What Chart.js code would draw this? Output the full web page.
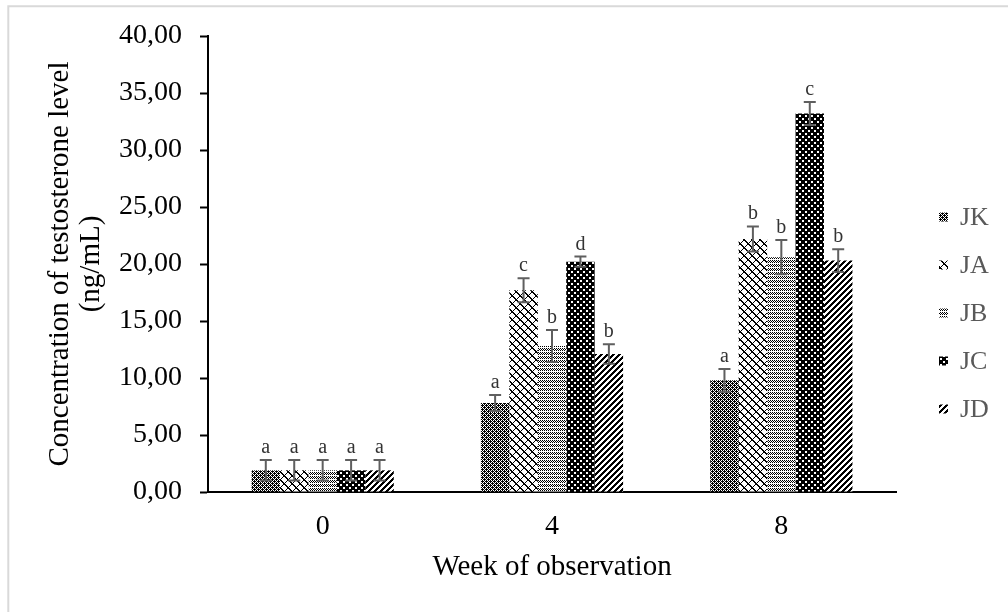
<!DOCTYPE html>
<html>
<head>
<meta charset="utf-8">
<script src="https://cdn.jsdelivr.net/npm/chart.js@4/dist/chart.umd.min.js"></script>
<style>
  html, body { margin: 0; padding: 0; background: #fff; }
  #wrap { width: 1008px; height: 612px; }
</style>
</head>
<body>
<div id="wrap"><canvas id="c" width="1008" height="612"></canvas></div>
<script>
// Weeks of observation
const weeks = ['0', '4', '8'];
const groupNames = ['JK', 'JA', 'JB', 'JC', 'JD'];

// Mean testosterone concentration (ng/mL) per group
const valuesJK = [1.9, 7.8, 9.8];
const valuesJA = [1.9, 17.7, 22.2];
const valuesJB = [1.9, 12.8, 20.6];
const valuesJC = [1.9, 20.2, 33.2];
const valuesJD = [1.9, 12.1, 20.3];

// Standard errors
const errJK = [0.9, 0.7, 1.0];
const errJA = [0.9, 1.05, 1.1];
const errJB = [0.9, 1.4, 1.5];
const errJC = [0.9, 0.45, 1.0];
const errJD = [0.9, 0.85, 1.0];

// Significance letters
const lettersJK = ['a', 'a', 'a'];
const lettersJA = ['a', 'c', 'b'];
const lettersJB = ['a', 'b', 'b'];
const lettersJC = ['a', 'd', 'c'];
const lettersJD = ['a', 'b', 'b'];

// Y-axis ticks
const yMin = 0, yMax = 40, yStep = 5;

const canvas = document.getElementById('c');
const ctx = canvas.getContext('2d');

// Monochrome fill patterns built from small pixel tiles
function makePattern(rows) {
  const t = document.createElement('canvas');
  t.width = rows[0].length;
  t.height = rows.length;
  const g = t.getContext('2d');
  g.fillStyle = '#ffffff';
  g.fillRect(0, 0, t.width, t.height);
  g.fillStyle = '#000000';
  rows.forEach((r, y) => {
    for (let x = 0; x < r.length; x++) if (r[x] === '#') g.fillRect(x, y, 1, 1);
  });
  return ctx.createPattern(t, 'repeat');
}
function diagonalTile(n, on) {
  const rows = [];
  for (let y = 0; y < n; y++) {
    let r = '';
    for (let x = 0; x < n; x++) r += ((x + y) % n) < on ? '#' : '.';
    rows.push(r);
  }
  return rows;
}

const patJK = makePattern([
  '#.#.',
  '.###',
  '#.#.',
  '##.#'
]);
const patJA = makePattern([
  '##.....#',
  '.##...#.',
  '..##.#..',
  '...##...',
  '...###..',
  '..#..##.',
  '.#....##',
  '#......#'
]);
const patJB = makePattern([
  '#.#.',
  '.#.#',
  '#.#.',
  '....'
]);
const patJC = makePattern([
  '######',
  '#..###',
  '#..###',
  '######',
  '####..',
  '####..'
]);
const patJD = makePattern(diagonalTile(6, 3));

const seriesValues = [valuesJK, valuesJA, valuesJB, valuesJC, valuesJD];
const seriesErr = [errJK, errJA, errJB, errJC, errJD];
const seriesLetters = [lettersJK, lettersJA, lettersJB, lettersJC, lettersJD];
const seriesFill = [patJK, patJA, patJB, patJC, patJD];

const SERIF = "'Liberation Serif', 'Times New Roman', serif";

const datasets = groupNames.map((name, i) => ({
  label: name,
  data: seriesValues[i],
  backgroundColor: seriesFill[i],
  borderWidth: 0,
  err: seriesErr[i],
  letters: seriesLetters[i]
}));

// White page with a light grey frame edge
const backdrop = {
  id: 'backdrop',
  beforeDraw(chart) {
    const c = chart.ctx;
    c.save();
    c.fillStyle = '#ffffff';
    c.fillRect(0, 0, chart.width, chart.height);
    c.strokeStyle = '#d9d9d9';
    c.lineWidth = 2;
    c.beginPath();
    c.moveTo(8.3, chart.height);
    c.lineTo(8.3, 6.3);
    c.lineTo(chart.width, 6.3);
    c.stroke();
    c.restore();
  }
};

// Error bars and significance letters over each bar
const errorBars = {
  id: 'errorBars',
  afterDatasetsDraw(chart) {
    const c = chart.ctx;
    const y = chart.scales.y;
    c.save();
    chart.data.datasets.forEach((ds, di) => {
      const meta = chart.getDatasetMeta(di);
      meta.data.forEach((bar, i) => {
        const v = ds.data[i], e = ds.err[i];
        const yt = y.getPixelForValue(v + e);
        const yb = y.getPixelForValue(v - e);
        const x = bar.x;
        c.strokeStyle = '#5f5f5f';
        c.lineWidth = 2;
        c.beginPath();
        c.moveTo(x, yt); c.lineTo(x, yb);
        c.moveTo(x - 6, yt); c.lineTo(x + 6, yt);
        c.moveTo(x - 6, yb); c.lineTo(x + 6, yb);
        c.stroke();
        c.fillStyle = '#333333';
        c.font = '20px ' + SERIF;
        c.textAlign = 'center';
        c.textBaseline = 'alphabetic';
        c.fillText(ds.letters[i], x, yt - 7);
      });
    });
    c.restore();
  }
};

// Legend listing the groups with their fill pattern
const sideLegend = {
  id: 'sideLegend',
  afterDraw(chart) {
    const c = chart.ctx;
    c.save();
    c.font = '26px ' + SERIF;
    c.textBaseline = 'middle';
    c.textAlign = 'left';
    chart.data.datasets.forEach((ds, i) => {
      const cy = 217 + i * 48;
      c.fillStyle = ds.backgroundColor;
      c.fillRect(939, cy - 4.5, 9, 9);
      c.fillStyle = '#595959';
      c.fillText(ds.label, 960, cy + 1);
    });
    c.restore();
  }
};

new Chart(ctx, {
  type: 'bar',
  data: { labels: weeks, datasets },
  plugins: [backdrop, errorBars, sideLegend],
  options: {
    responsive: false,
    animation: false,
    events: [],
    layout: { padding: { left: 0, top: 36, right: 112, bottom: 0 } },
    datasets: { bar: { categoryPercentage: 0.62, barPercentage: 1.0 } },
    plugins: { legend: { display: false }, tooltip: { enabled: false } },
    scales: {
      x: {
        afterFit(scale) { scale.height = 120; },
        grid: { display: false, drawTicks: false },
        border: { display: true, color: '#000000', width: 2 },
        ticks: { color: '#000000', font: { family: SERIF, size: 28 }, padding: 18 },
        title: {
          display: true,
          text: 'Week of observation',
          color: '#000000',
          font: { family: SERIF, size: 29, lineHeight: 1.1 },
          padding: { top: 0, bottom: 29 }
        }
      },
      y: {
        min: yMin,
        max: yMax,
        afterFit(scale) { scale.width = 208; },
        grid: {
          drawOnChartArea: false,
          drawTicks: true,
          tickLength: 8,
          tickColor: '#000000',
          tickWidth: 2
        },
        border: { display: true, color: '#000000', width: 2 },
        ticks: {
          stepSize: yStep,
          color: '#000000',
          padding: 18,
          font: { family: SERIF, size: 28 },
          callback: (v) => v.toFixed(2).replace('.', ',')
        },
        title: {
          display: true,
          text: ['Concentration of testosterone level', '(ng/mL)'],
          color: '#000000',
          font: { family: SERIF, size: 29, lineHeight: 1.1 },
          padding: { top: 44, bottom: 0 }
        }
      }
    }
  }
});
</script>
</body>
</html>
